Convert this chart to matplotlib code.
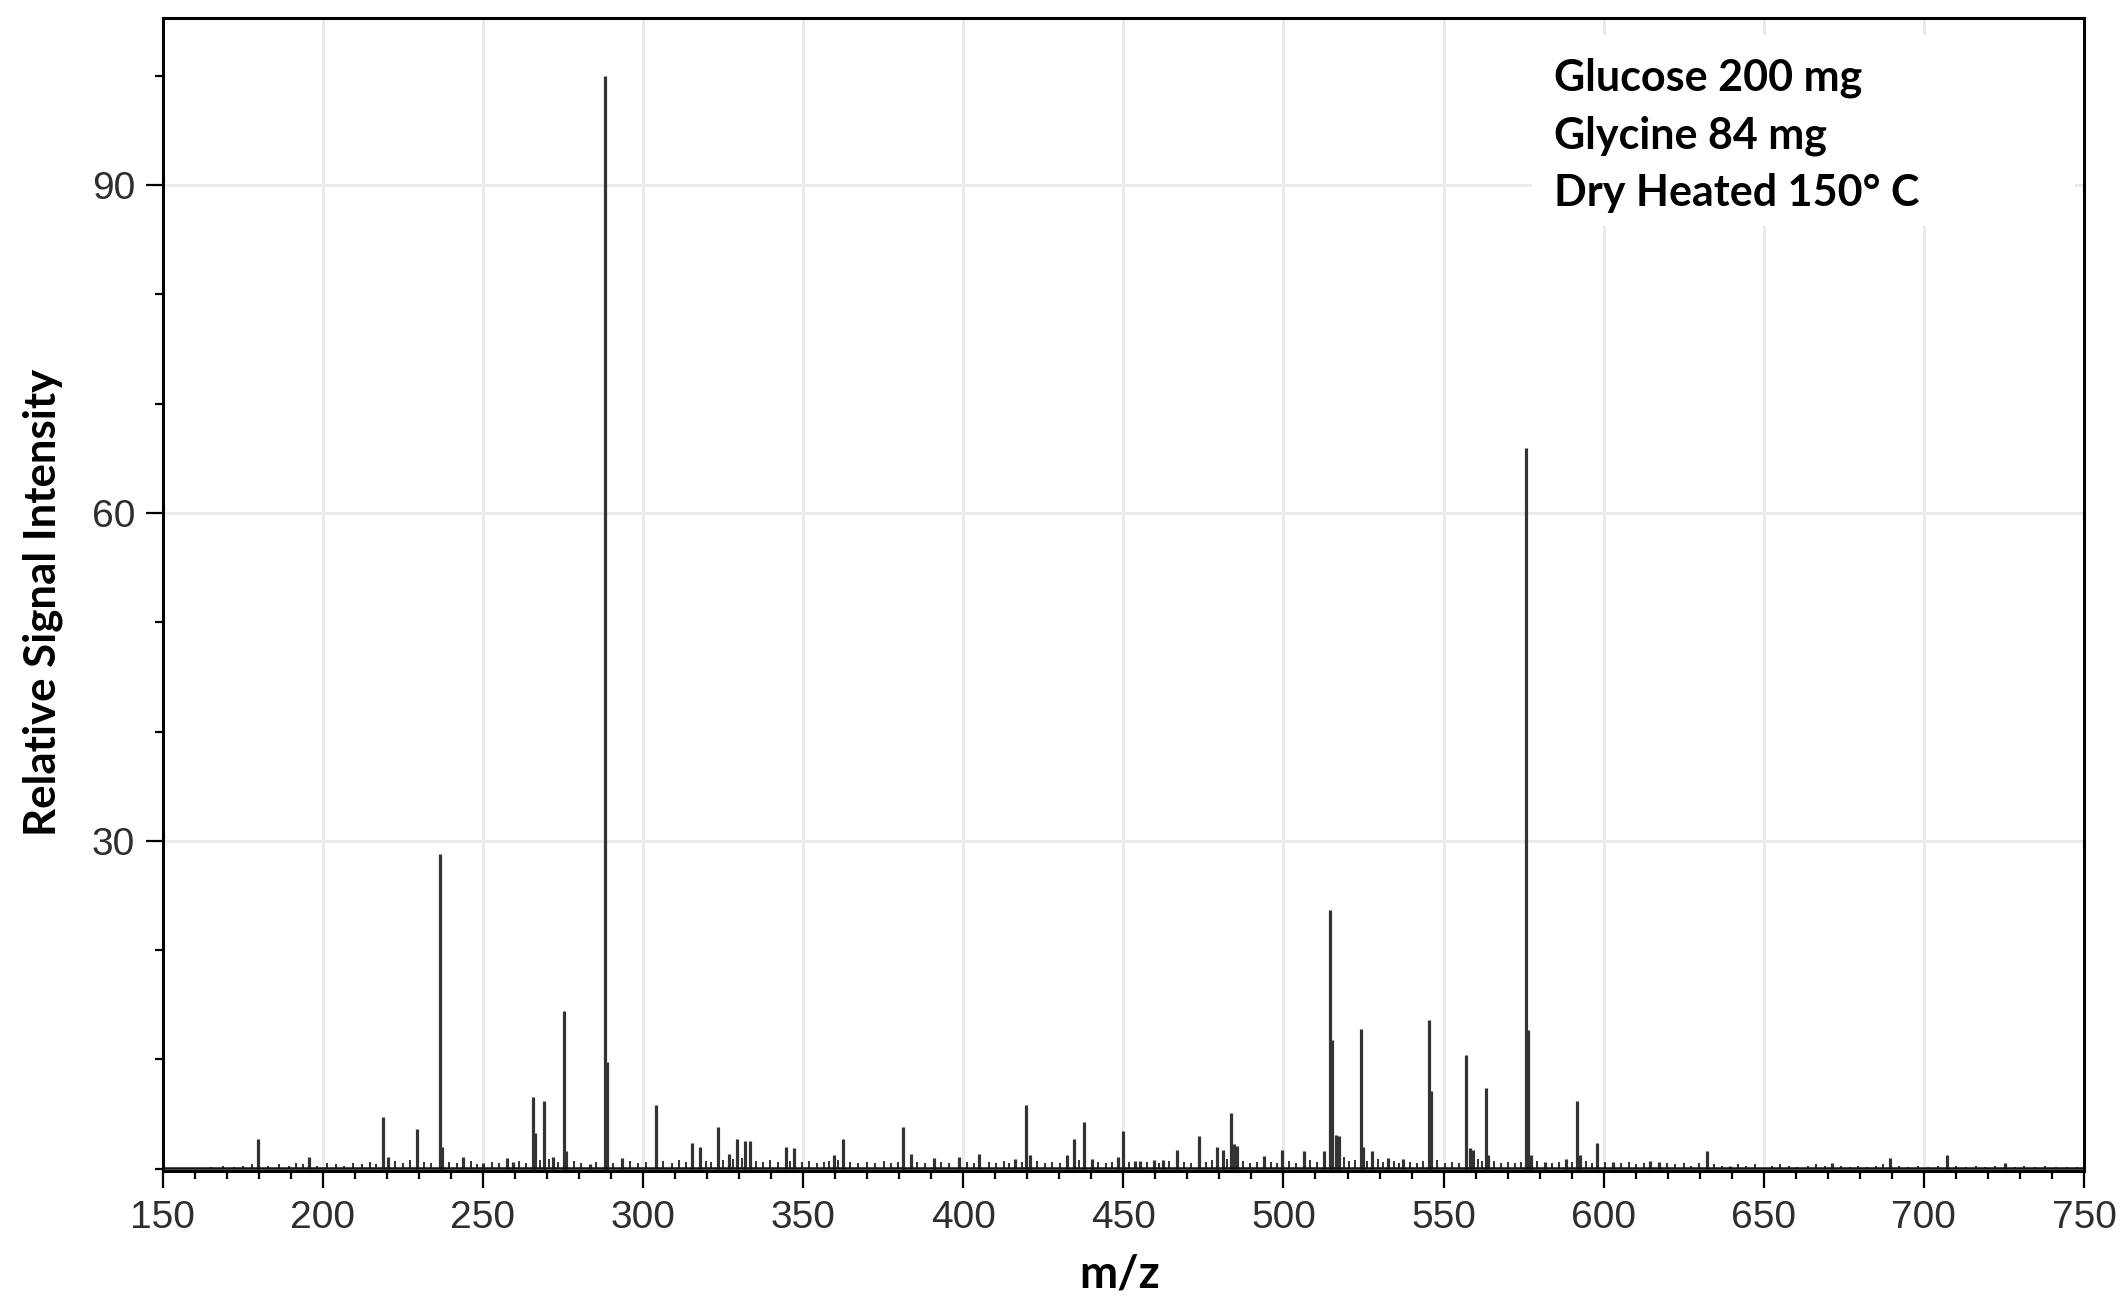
import matplotlib
matplotlib.use("Agg")
import matplotlib.pyplot as plt
from matplotlib.patches import Rectangle
from matplotlib.ticker import MultipleLocator

# ---- data ----
peak_mz = [179.8, 195.8, 218.7, 220.5, 229.4, 236.6, 237.3, 243.7, 250.1, 257.4,
           259.5, 265.7, 266.2, 269.2, 272.0, 275.4, 276.1, 283.4, 288.1, 288.7,
           293.3, 303.9, 315.3, 317.9, 323.4, 326.8, 329.4, 332.0, 333.5, 344.6,
           347.3, 359.5, 362.3, 381.1, 383.7, 391.0, 398.8, 405.0, 416.3, 419.7,
           420.8, 432.3, 434.7, 437.7, 440.2, 448.3, 450.0, 453.6, 455.2, 459.6,
           462.3, 466.7, 473.7, 479.2, 481.0, 483.5, 484.7, 485.6, 494.0, 499.5,
           506.4, 512.7, 514.6, 515.3, 516.4, 517.2, 524.2, 524.9, 527.6, 532.7,
           537.4, 545.6, 546.1, 557.0, 558.2, 559.3, 563.2, 563.8, 575.7, 576.3,
           577.4, 581.8, 588.3, 591.6, 592.5, 597.8, 603.0, 614.5, 617.4, 632.2,
           639.5, 671.2, 689.4, 707.3, 725.4]
peak_int = [2.7, 1.1, 4.7, 1.1, 3.6, 28.8, 2.0, 1.1, 0.5, 1.0,
            0.6, 6.6, 3.3, 6.2, 1.1, 14.4, 1.6, 0.4, 100.0, 9.8,
            1.0, 5.8, 2.4, 2.0, 3.8, 1.4, 2.7, 2.5, 2.5, 2.0,
            1.9, 1.3, 2.7, 3.8, 1.4, 1.0, 1.1, 1.4, 0.9, 5.8,
            1.3, 1.3, 2.7, 4.3, 0.9, 1.1, 3.5, 0.7, 0.7, 0.8,
            0.8, 1.7, 3.0, 2.0, 1.7, 5.1, 2.3, 2.1, 1.2, 1.7,
            1.6, 1.6, 23.7, 11.8, 3.1, 3.0, 12.8, 2.0, 1.6, 1.0,
            0.9, 13.6, 7.1, 10.4, 1.9, 1.7, 7.4, 1.3, 65.9, 12.7,
            1.3, 0.6, 0.9, 6.2, 1.3, 2.35, 0.6, 0.7, 0.6, 1.6,
            0.3, 0.5, 1.0, 1.3, 0.5]

noise_mz = [165.2, 168.9, 172.4, 175.1, 177.8, 183.0, 186.2, 189.5, 191.7, 193.9,
            198.1, 201.4, 204.0, 206.6, 209.3, 212.2, 214.8, 216.7, 222.6, 225.1,
            227.3, 231.5, 233.9, 239.4, 241.8, 246.2, 248.3, 252.8, 255.0, 261.3,
            263.4, 267.8, 270.7, 273.6, 278.4, 280.7, 285.2, 290.6, 295.8, 298.4,
            301.0, 306.2, 308.9, 311.3, 313.4, 319.6, 321.3, 325.0, 328.2, 330.8,
            335.2, 337.6, 339.8, 342.0, 346.0, 349.5, 351.9, 354.3, 356.6, 358.2,
            361.0, 364.5, 367.0, 369.8, 372.4, 375.1, 377.3, 379.5, 385.6, 388.2,
            393.1, 395.6, 401.2, 403.4, 407.9, 410.1, 412.6, 414.4, 418.2, 422.9,
            425.4, 427.7, 430.2, 436.2, 442.0, 444.6, 446.4, 451.8, 457.3, 461.0,
            464.4, 468.8, 471.2, 475.9, 477.6, 482.3, 487.4, 489.6, 491.8, 496.2,
            498.0, 501.6, 503.9, 508.3, 510.5, 519.0, 520.6, 522.3, 526.2, 529.5,
            531.0, 534.6, 536.1, 539.5, 541.7, 543.6, 548.0, 550.3, 552.6, 554.8,
            560.8, 562.0, 565.7, 567.9, 570.2, 572.4, 574.1, 579.3, 583.9, 586.0,
            590.1, 594.6, 596.2, 600.4, 605.3, 607.8, 610.2, 612.6, 619.8, 622.3,
            625.0, 627.4, 629.8, 634.5, 636.9, 642.0, 644.4, 647.3, 652.6, 655.1,
            657.8, 660.4, 663.7, 666.4, 669.0, 674.1, 676.8, 679.5, 682.3, 685.0,
            687.2, 692.3, 695.0, 698.1, 701.4, 704.3, 710.1, 713.0, 716.2, 719.0,
            722.3, 728.6, 731.4, 734.7, 737.9, 741.2, 744.6, 747.8]
noise_int = [0.2, 0.3, 0.2, 0.3, 0.4, 0.3, 0.4, 0.3, 0.5, 0.4,
             0.3, 0.5, 0.4, 0.3, 0.5, 0.4, 0.6, 0.4, 0.7, 0.5,
             0.8, 0.6, 0.5, 0.6, 0.5, 0.7, 0.4, 0.6, 0.5, 0.7,
             0.5, 0.8, 0.9, 0.6, 0.7, 0.5, 0.6, 0.5, 0.7, 0.5,
             0.6, 0.7, 0.5, 0.8, 0.6, 0.7, 0.6, 0.8, 0.9, 1.0,
             0.7, 0.6, 0.8, 0.6, 0.7, 0.6, 0.7, 0.5, 0.6, 0.7,
             0.8, 0.6, 0.5, 0.6, 0.5, 0.7, 0.5, 0.6, 0.6, 0.5,
             0.6, 0.5, 0.6, 0.5, 0.6, 0.5, 0.7, 0.5, 0.6, 0.7,
             0.5, 0.6, 0.5, 0.8, 0.6, 0.5, 0.6, 0.6, 0.6, 0.5,
             0.7, 0.6, 0.5, 0.6, 0.8, 0.9, 0.7, 0.5, 0.6, 0.6,
             0.5, 0.7, 0.5, 0.8, 0.6, 1.1, 0.7, 0.8, 0.7, 0.9,
             0.6, 0.7, 0.5, 0.6, 0.5, 0.7, 0.8, 0.5, 0.6, 0.5,
             0.9, 0.7, 0.7, 0.5, 0.6, 0.5, 0.6, 0.7, 0.5, 0.6,
             0.6, 0.7, 0.5, 0.6, 0.5, 0.6, 0.4, 0.5, 0.5, 0.4,
             0.5, 0.3, 0.5, 0.4, 0.3, 0.4, 0.3, 0.4, 0.3, 0.4,
             0.3, 0.2, 0.3, 0.4, 0.3, 0.3, 0.2, 0.3, 0.2, 0.3,
             0.4, 0.3, 0.2, 0.3, 0.2, 0.3, 0.3, 0.2, 0.3, 0.2,
             0.3, 0.2, 0.3, 0.2, 0.3, 0.2, 0.2, 0.2]

x_ticks = [150, 200, 250, 300, 350, 400, 450, 500, 550, 600, 650, 700, 750]
y_ticks = [30, 60, 90]
annotation_lines = ["Glucose 200 mg", "Glycine 84 mg", "Dry Heated 150\u00b0 C"]

# ---- figure ----
W, H = 2126, 1302
fig = plt.figure(figsize=(W / 100, H / 100), dpi=100)
ax = fig.add_axes([162.7 / W, 1 - 1171 / H, (2084 - 162.7) / W, (1171 - 17.6) / H])

tick_font = ['Liberation Sans Narrow', 'Liberation Sans', 'DejaVu Sans']
label_font = ['Lato', 'DejaVu Sans']

ax.set_xlim(150, 750)
ax.set_ylim(-0.2, 105.3)

ax.set_axisbelow(True)
ax.grid(True, which='major', color='#ebebeb', linewidth=2.2)

# white box behind annotation (covers grid)
ax.add_patch(Rectangle((577.6, 86.2), 169.6, 17.5, facecolor='white',
                       edgecolor='none', zorder=1))

spec_color = '#333333'
ax.vlines(noise_mz, 0, noise_int, color=spec_color, linewidth=1.4, zorder=2)
ax.vlines(peak_mz, 0, peak_int, color=spec_color, linewidth=2.3, zorder=3)
ax.plot([150, 750], [0.1, 0.1], color='#111111', linewidth=1.8, zorder=3)

ax.set_xticks(x_ticks)
ax.set_yticks(y_ticks)
ax.xaxis.set_minor_locator(MultipleLocator(10))
ax.yaxis.set_minor_locator(MultipleLocator(10))
ax.tick_params(which='major', direction='out', length=12, width=1.6,
               color='black', labelsize=28, labelcolor='#2e2e2e')
ax.tick_params(which='minor', direction='out', length=6, width=1.6, color='black')
ax.tick_params(axis='x', which='major', pad=9)
ax.tick_params(axis='y', which='major', pad=8)
for lab in ax.get_xticklabels() + ax.get_yticklabels():
    lab.set_family(tick_font)

for sp in ax.spines.values():
    sp.set_linewidth(2.2)
    sp.set_color('black')

fig.text(1120 / W, 1 - 1274 / H, "m/z", ha='center', va='center',
         fontsize=33, fontweight='bold', family=label_font)
fig.text(43 / W, 1 - 602 / H, "Relative Signal Intensity", ha='center', va='center',
         rotation=90, fontsize=31.5, fontweight='bold', family=label_font)

baselines = [91, 148, 206]
for line, yb in zip(annotation_lines, baselines):
    fig.text(1554 / W, 1 - yb / H, line, ha='left', va='baseline',
             fontsize=31, fontweight='bold', family=label_font, color='black')

fig.savefig("out.png", dpi=100)
